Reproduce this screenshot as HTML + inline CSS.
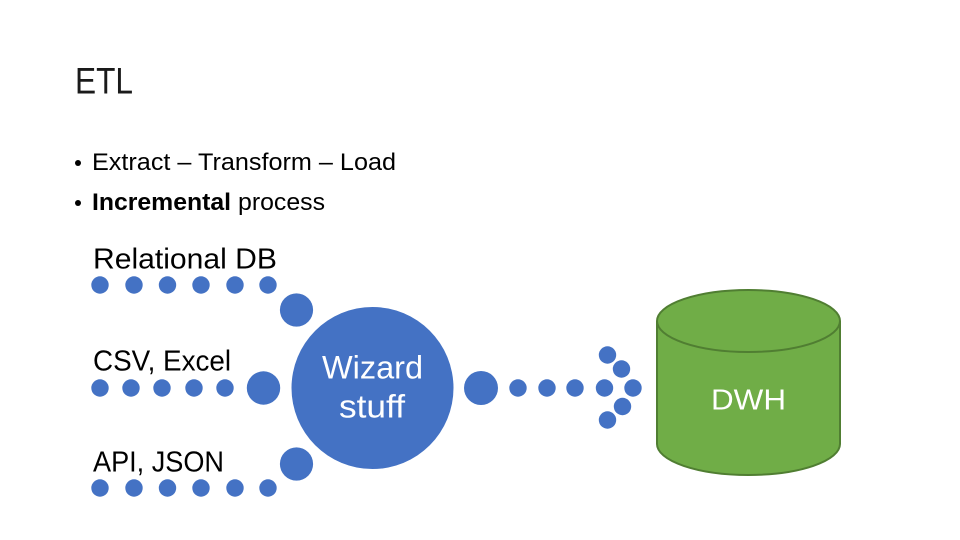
<!DOCTYPE html>
<html><head><meta charset="utf-8"><style>html,body{margin:0;padding:0;background:#fff}svg{display:block}text{font-family:"Liberation Sans",sans-serif}</style></head>
<body>
<svg width="960" height="540" viewBox="0 0 960 540" xmlns="http://www.w3.org/2000/svg">
<rect width="960" height="540" fill="#fff"/>
<text x="75" y="93.500" font-size="37" textLength="58" lengthAdjust="spacingAndGlyphs" fill="#1a1a1a">ETL</text>
<circle cx="78" cy="163" r="3" fill="#000"/>
<circle cx="78" cy="203" r="3" fill="#000"/>
<text x="92" y="170" font-size="24" textLength="304" lengthAdjust="spacingAndGlyphs" fill="#000">Extract – Transform – Load</text>
<text x="92" y="210" font-size="24" font-weight="bold" textLength="139" lengthAdjust="spacingAndGlyphs" fill="#000">Incremental</text>
<text x="238" y="210" font-size="24" textLength="87" lengthAdjust="spacingAndGlyphs" fill="#000">process</text>
<text x="93" y="268.500" font-size="29" textLength="184" lengthAdjust="spacingAndGlyphs" fill="#000">Relational DB</text>
<text x="93" y="370.500" font-size="29" textLength="138" lengthAdjust="spacingAndGlyphs" fill="#000">CSV, Excel</text>
<text x="93" y="471.500" font-size="29" textLength="131" lengthAdjust="spacingAndGlyphs" fill="#000">API, JSON</text>
<g fill="#4472c4">
<circle cx="100" cy="285" r="8.7"/><circle cx="134" cy="285" r="8.7"/><circle cx="167.5" cy="285" r="8.7"/><circle cx="201" cy="285" r="8.7"/><circle cx="235" cy="285" r="8.7"/><circle cx="268" cy="285" r="8.7"/>
<circle cx="296.5" cy="310" r="16.6"/>
<circle cx="100" cy="388" r="8.7"/><circle cx="131" cy="388" r="8.7"/><circle cx="162" cy="388" r="8.7"/><circle cx="194" cy="388" r="8.7"/><circle cx="225" cy="388" r="8.7"/>
<circle cx="263.5" cy="388" r="16.7"/>
<circle cx="100" cy="488" r="8.7"/><circle cx="134" cy="488" r="8.7"/><circle cx="167.5" cy="488" r="8.7"/><circle cx="201" cy="488" r="8.7"/><circle cx="235" cy="488" r="8.7"/><circle cx="268" cy="488" r="8.7"/>
<circle cx="296.5" cy="464" r="16.6"/>
<circle cx="372.5" cy="388" r="81"/>
<circle cx="481" cy="388" r="17"/>
<circle cx="518" cy="388" r="8.7"/><circle cx="547" cy="388" r="8.7"/><circle cx="575" cy="388" r="8.7"/><circle cx="604.500" cy="388" r="8.7"/><circle cx="633" cy="388" r="8.7"/>
<circle cx="607.500" cy="355" r="8.7"/><circle cx="621.500" cy="369" r="8.7"/><circle cx="622.500" cy="406.500" r="8.7"/><circle cx="607.500" cy="420" r="8.7"/>
</g>
<text x="322" y="378.500" font-size="32" textLength="101" lengthAdjust="spacingAndGlyphs" fill="#fff">Wizard</text>
<text x="339" y="417.500" font-size="32" textLength="66" lengthAdjust="spacingAndGlyphs" fill="#fff">stuff</text>
<path d="M657 321 V444 A91.500 31 0 0 0 840 444 V321 A91.500 31 0 0 0 657 321 A91.500 31 0 0 0 840 321" fill="#70ad47" stroke="#507e32" stroke-width="2"/>
<text x="711" y="409.500" font-size="29" textLength="75" lengthAdjust="spacingAndGlyphs" fill="#fff">DWH</text>
</svg>
</body></html>
